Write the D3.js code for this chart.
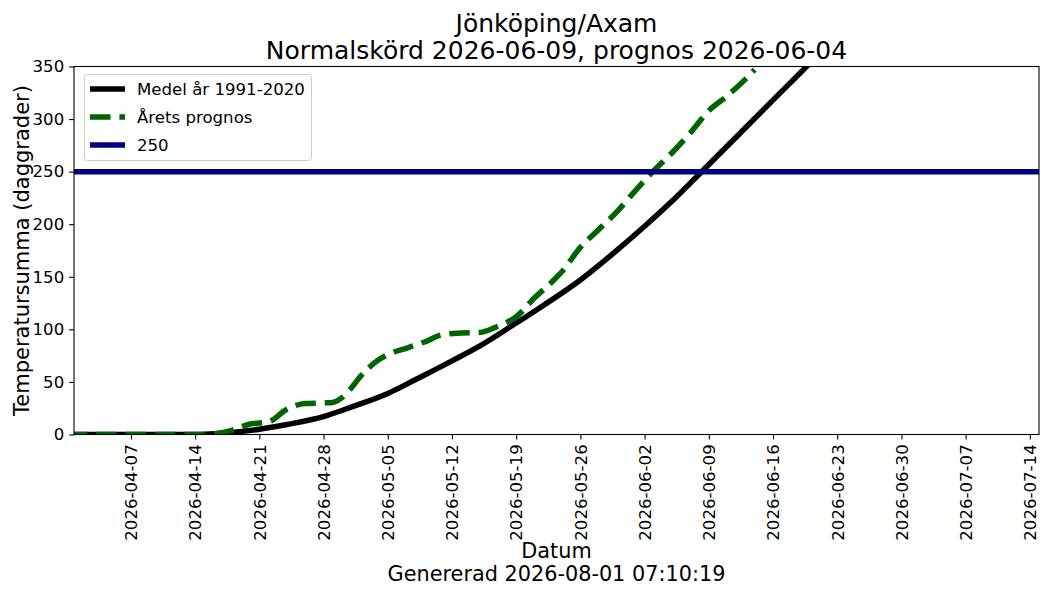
<!DOCTYPE html>
<html>
<head>
<meta charset="utf-8">
<script src="https://cdn.jsdelivr.net/npm/d3@7"></script>
<style>
  body { margin: 0; background: #fff; }
  text { font-family: "DejaVu Sans", sans-serif; fill: #000; }
</style>
</head>
<body>
<svg width="1050" height="600"></svg>
<script>
// data
var meanDates = ['2026-03-31', '2026-04-14', '2026-04-16', '2026-04-18', '2026-04-21', '2026-04-24',
    '2026-04-28', '2026-05-01', '2026-05-05', '2026-05-08', '2026-05-12', '2026-05-15', '2026-05-19',
    '2026-05-22', '2026-05-26', '2026-05-29', '2026-06-02', '2026-06-05', '2026-06-08', '2026-06-12',
    '2026-06-16', '2026-06-20', '2026-06-23']
var meanValues = [0, 0, 0.8, 2, 5, 9.5, 17, 26, 39, 52, 70, 84, 106, 123, 147, 168, 198, 222, 248, 283, 318, 353, 380]

var progDates = ['2026-03-31', '2026-04-15', '2026-04-16', '2026-04-18', '2026-04-20', '2026-04-22',
    '2026-04-24', '2026-04-26', '2026-04-28', '2026-04-29', '2026-04-30', '2026-05-01', '2026-05-02',
    '2026-05-03', '2026-05-04', '2026-05-05', '2026-05-07', '2026-05-09', '2026-05-11', '2026-05-13',
    '2026-05-15', '2026-05-17', '2026-05-19', '2026-05-21', '2026-05-23', '2026-05-24', '2026-05-26',
    '2026-05-28', '2026-05-30', '2026-06-01', '2026-06-03', '2026-06-05', '2026-06-07', '2026-06-09',
    '2026-06-11', '2026-06-13', '2026-06-14']
var progValues = [0, 0, 0.5, 4, 10, 12, 24, 29.5, 30, 30.5, 35, 44, 55, 64, 71, 76, 82, 88, 95, 96.5,
    97, 103, 112, 130, 146, 155, 178, 195, 212, 232, 251, 268, 287, 308, 322, 338, 347]

var threshold = 250
var yTicks = [0, 50, 100, 150, 200, 250, 300, 350]
var xTicks = ['2026-04-07', '2026-04-14', '2026-04-21', '2026-04-28', '2026-05-05', '2026-05-12',
    '2026-05-19', '2026-05-26', '2026-06-02', '2026-06-09', '2026-06-16', '2026-06-23', '2026-06-30',
    '2026-07-07', '2026-07-14']
var legendNames = ['Medel år 1991-2020', 'Årets prognos', '250']

var parse = d3.utcParse('%Y-%m-%d')
var fmt = d3.utcFormat('%Y-%m-%d')

// plot area
var pL = 74, pR = 1039, pT = 66.5, pB = 434.5
var svg = d3.select('svg')
svg.append('rect').attr('width', 1050).attr('height', 600).attr('fill', '#fff')

var x = d3.scaleUtc()
    .domain([new Date(Date.UTC(2026, 2, 31, 19)), new Date(Date.UTC(2026, 6, 15))])
    .range([pL, pR])
var y = d3.scaleLinear().domain([0, 350]).range([pB, pT])

svg.append('clipPath').attr('id', 'clip')
    .append('rect').attr('x', pL).attr('y', pT)
    .attr('width', pR - pL).attr('height', pB - pT)

var line = d3.line()
    .x(d => x(d[0]))
    .y(d => y(d[1]))
    .curve(d3.curveMonotoneX)

var meanData = meanDates.map((d, i) => [parse(d), meanValues[i]])
var progData = progDates.map((d, i) => [parse(d), progValues[i]])

var g = svg.append('g').attr('clip-path', 'url(#clip)')
g.append('path').attr('d', line(meanData))
    .attr('fill', 'none').attr('stroke', '#000').attr('stroke-width', 5.5)
g.append('path').attr('d', line(progData))
    .attr('fill', 'none').attr('stroke', '#006400').attr('stroke-width', 5.5)
    .attr('stroke-dasharray', '20.5,8.9')
g.append('line')
    .attr('x1', pL).attr('x2', pR)
    .attr('y1', y(threshold)).attr('y2', y(threshold))
    .attr('stroke', '#000080').attr('stroke-width', 5.5)

// axes
var xAxis = svg.append('g').attr('transform', 'translate(0,' + pB + ')')
    .call(d3.axisBottom(x).tickValues(xTicks.map(parse)).tickFormat(fmt).tickSize(4.9).tickPadding(4.9))
xAxis.select('.domain').remove()
xAxis.selectAll('line').attr('stroke-width', 1.1)
xAxis.selectAll('text')
    .attr('font-size', 16.6)
    .attr('transform', 'rotate(-90)')
    .attr('text-anchor', 'end')
    .attr('x', -9.8).attr('y', 0).attr('dy', '0.35em')

var yAxis = svg.append('g').attr('transform', 'translate(' + pL + ',0)')
    .call(d3.axisLeft(y).tickValues(yTicks).tickSize(4.9).tickPadding(4.9))
yAxis.select('.domain').remove()
yAxis.selectAll('line').attr('stroke-width', 1.1)
yAxis.selectAll('text').attr('font-size', 16.6)

svg.append('rect')
    .attr('x', pL).attr('y', pT)
    .attr('width', pR - pL).attr('height', pB - pT)
    .attr('fill', 'none').attr('stroke', '#000').attr('stroke-width', 1.1)

// legend
var lg = svg.append('g')
lg.append('rect')
    .attr('x', 84.5).attr('y', 74.5).attr('width', 227).attr('height', 86)
    .attr('rx', 3).attr('fill', '#fff').attr('fill-opacity', 0.8)
    .attr('stroke', '#ccc').attr('stroke-width', 1)
var rows = [89, 117, 145]
var styles = [
    { c: '#000', dash: null },
    { c: '#006400', dash: '20.5,8.9' },
    { c: '#000080', dash: null }
]
legendNames.forEach(function (name, i) {
    lg.append('line')
        .attr('x1', 90).attr('x2', 125)
        .attr('y1', rows[i]).attr('y2', rows[i])
        .attr('stroke', styles[i].c).attr('stroke-width', 5.5)
        .attr('stroke-dasharray', styles[i].dash)
    lg.append('text')
        .attr('x', 137).attr('y', rows[i] + 6)
        .attr('font-size', 16.6)
        .text(name)
})

// titles
svg.append('text').attr('x', 556.5).attr('y', 32)
    .attr('text-anchor', 'middle').attr('font-size', 25)
    .text('Jönköping/Axam')
svg.append('text').attr('x', 556.5).attr('y', 59)
    .attr('text-anchor', 'middle').attr('font-size', 25)
    .text('Normalskörd 2026-06-09, prognos 2026-06-04')

svg.append('text')
    .attr('transform', 'translate(29,' + (pT + pB) / 2 + ') rotate(-90)')
    .attr('text-anchor', 'middle').attr('font-size', 21)
    .text('Temperatursumma (daggrader)')

svg.append('text').attr('x', 556.5).attr('y', 558)
    .attr('text-anchor', 'middle').attr('font-size', 20.8)
    .text('Datum')
svg.append('text').attr('x', 556.5).attr('y', 581)
    .attr('text-anchor', 'middle').attr('font-size', 20.8)
    .text('Genererad 2026-08-01 07:10:19')
</script>
</body>
</html>
